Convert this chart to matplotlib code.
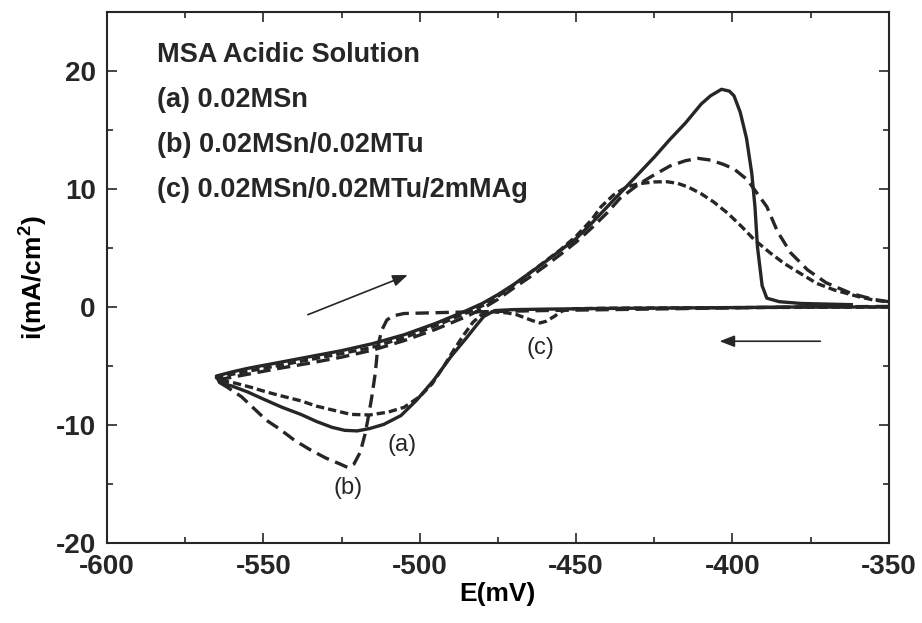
import matplotlib
matplotlib.use("Agg")
import matplotlib.pyplot as plt
from matplotlib.ticker import MultipleLocator

plt.rcParams["font.family"] = ["Liberation Sans", "DejaVu Sans"]
plt.rcParams["font.weight"] = "bold"
plt.rcParams["axes.unicode_minus"] = False
plt.rcParams["mathtext.fontset"] = "custom"
plt.rcParams["mathtext.rm"] = "Liberation Sans:bold"
plt.rcParams["mathtext.bf"] = "Liberation Sans:bold"
plt.rcParams["mathtext.default"] = "rm"

# (a) 0.02MSn : cathodic sweep (-350 -> -565) then anodic return
E_a = [-350, -380, -400, -420, -440, -460, -470, -476, -479.5, -482, -485, -490,
       -495.5, -501, -506, -511.5, -516, -520, -524, -528, -533, -538, -544, -550,
       -555, -560, -564,
       -565, -560, -555, -545, -535, -525, -515, -505, -495, -485, -480, -475,
       -470, -465, -460, -455, -450, -445, -440, -435, -430, -425, -420, -415,
       -410, -407, -403.5, -401, -399.5, -397.5, -395.5, -393.8, -392.8, -392,
       -390.5, -389, -385, -378, -362]
I_a = [0.0, 0.0, -0.05, -0.08, -0.12, -0.18, -0.22, -0.3, -0.8, -1.6, -2.6, -4.2,
       -6.2, -7.9, -9.2, -9.95, -10.3, -10.5, -10.45, -10.2, -9.7, -9.1, -8.5, -7.8,
       -7.2, -6.7, -6.4,
       -5.85, -5.5, -5.2, -4.7, -4.2, -3.7, -3.1, -2.35, -1.4, -0.3, 0.3, 1.05,
       1.9, 2.85, 3.8, 4.8, 5.8, 7.1, 8.5, 9.9, 11.3, 12.7, 14.2, 15.6,
       17.2, 17.9, 18.45, 18.3, 17.9, 16.5, 14.3, 11.3, 8.5, 5.1,
       1.8, 0.75, 0.45, 0.3, 0.2]

# (b) 0.02MSn/0.02MTu
E_b = [-350, -380, -420, -460, -490, -505, -508.5, -510.5, -512.2, -513.4, -514.2,
       -515.3, -516.4, -517.5, -519, -521, -523, -525.5, -530, -535, -540, -545,
       -549, -553, -557, -561.5, -564,
       -565, -560, -555, -545, -535, -525, -515, -505, -495, -485, -480, -475,
       -470, -465, -460, -455, -450, -445, -440, -436, -430, -426, -420, -415,
       -411, -407, -403, -399.5, -395.3, -392, -389, -385.6, -381.4, -376, -370,
       -362, -355, -350]
I_b = [0.05, 0.0, -0.15, -0.3, -0.45, -0.55, -0.75, -1.1, -2.0, -3.4, -5.6,
       -7.6, -9.3, -10.8, -12.3, -13.3, -13.6, -13.3, -12.8, -12.1, -11.3, -10.3,
       -9.6, -8.6, -7.6, -6.8, -6.4,
       -6.2, -5.95, -5.7, -5.2, -4.75, -4.25, -3.65, -2.85, -1.9, -0.8, -0.15, 0.65,
       1.6, 2.5, 3.45, 4.45, 5.5, 6.7, 8.0, 9.2, 10.4, 11.05, 11.95, 12.4,
       12.6, 12.45, 12.1, 11.7, 10.8, 9.6, 8.5, 6.4, 4.6, 3.15, 2.05,
       1.15, 0.65, 0.45]

# (c) 0.02MSn/0.02MTu/2mMAg
E_c = [-350, -400, -440, -452, -454.5, -457, -459.5, -461.5, -464, -466, -469,
       -472, -477, -480, -483, -486, -489, -492, -496, -500, -505, -510, -516,
       -522, -527.5, -533, -538, -544, -549, -554, -559, -564,
       -565, -560, -555, -545, -535, -525, -515, -505, -495, -485, -480, -475,
       -470, -465, -460, -455, -450, -445, -442, -438, -434, -430, -425, -421,
       -417.5, -414, -410, -406, -401.5, -397, -393, -388, -383.5, -378, -373,
       -367.5, -360, -355, -350]
I_c = [0.0, -0.05, -0.1, -0.15, -0.35, -0.8, -1.2, -1.35, -1.15, -0.95, -0.65,
       -0.5, -0.4, -0.6, -1.3, -2.4, -3.6, -4.9, -6.5, -7.6, -8.5, -8.9, -9.15,
       -9.1, -8.75, -8.4, -7.95, -7.55, -7.2, -6.8, -6.45, -6.2,
       -6.0, -5.7, -5.45, -4.95, -4.45, -3.95, -3.4, -2.6, -1.6, -0.5, 0.1, 0.9,
       1.85, 2.85, 3.85, 4.85, 6.0, 7.4, 8.5, 9.5, 10.15, 10.45, 10.6, 10.62,
       10.48, 10.15, 9.6, 8.9, 7.95, 6.8, 5.7, 4.6, 3.7, 2.8, 2.0,
       1.45, 0.9, 0.6, 0.42]

legend_lines = ["MSA Acidic Solution", "(a) 0.02MSn", "(b) 0.02MSn/0.02MTu",
                "(c) 0.02MSn/0.02MTu/2mMAg"]
curve_labels = ["(a)", "(b)", "(c)"]
label_pos = [(-505.7, -11.7), (-523, -15.3), (-461.4, -3.5)]

ink = "#262626"

fig = plt.figure(figsize=(9.22, 6.23), dpi=100)
ax = fig.add_axes([0.116, 0.1284, 0.848, 0.8523])

ax.plot(E_a, I_a, color=ink, lw=2.4, solid_joinstyle="round")
ax.plot(E_b, I_b, color=ink, lw=2.4, ls=(0, (4, 2)))
ax.plot(E_c, I_c, color=ink, lw=2.4, ls=(0, (2.5, 1.2)))

# sweep direction arrows
ax.annotate("", xy=(-503, 2.8), xytext=(-536.6, -0.74),
            arrowprops=dict(arrowstyle="-|>,head_length=0.9,head_width=0.35",
                            color=ink, lw=1.2))
ax.annotate("", xy=(-405, -2.9), xytext=(-371, -2.9),
            arrowprops=dict(arrowstyle="-|>,head_length=0.9,head_width=0.35",
                            color=ink, lw=1.2))

for k, txt in enumerate(legend_lines):
    ax.text(-584, 20.76 - 3.81 * k, txt, fontsize=19.5, fontweight="bold",
            va="baseline", ha="left", color=ink)

for txt, (x, y) in zip(curve_labels, label_pos):
    ax.text(x, y, txt, fontsize=17, fontweight="normal", ha="center",
            va="center", color=ink)

ax.set_xlim(-600, -350)
ax.set_ylim(-20, 25)
ax.xaxis.set_major_locator(MultipleLocator(50))
ax.xaxis.set_minor_locator(MultipleLocator(25))
ax.yaxis.set_major_locator(MultipleLocator(10))
ax.yaxis.set_minor_locator(MultipleLocator(5))
ax.tick_params(which="both", direction="in", top=True, right=True, width=1.2,
               labelsize=20, colors=ink)
ax.tick_params(which="major", length=7.5, pad=8)
ax.tick_params(which="minor", length=4.5)
for s in ax.spines.values():
    s.set_linewidth(1.5)
    s.set_color(ink)

ax.set_xlabel("E(mV)", fontsize=19, fontweight="bold", labelpad=1)
ax.set_ylabel(r"i(mA/cm$^{2}$)", fontsize=19, fontweight="bold", labelpad=4)

fig.savefig("out.png", dpi=100)
